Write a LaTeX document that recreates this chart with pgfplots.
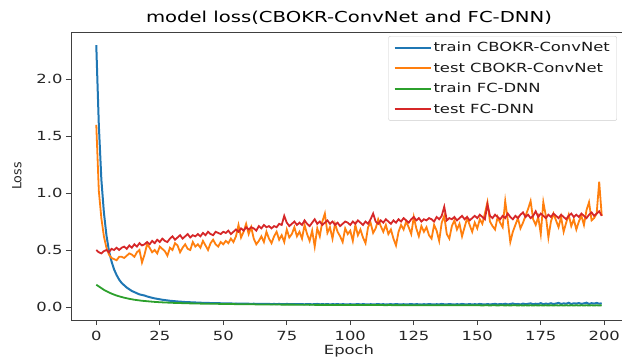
\documentclass[border=0pt]{standalone}
\usepackage{pgfplots}
\usepackage{pgfplotstable}
\pgfplotsset{compat=1.18}
\usepackage{fontspec}
\setmainfont[FakeStretch=1.3]{DejaVu Sans}
\newfontfamily\plainfont{DejaVu Sans}
\definecolor{tabblue}{HTML}{1F77B4}
\definecolor{taborange}{HTML}{FF7F0E}
\definecolor{tabgreen}{HTML}{2CA02C}
\definecolor{tabred}{HTML}{D62728}
\pgfplotstableread{
b o g r
2.30 1.60 0.195 0.50
1.60 1.02 0.180 0.48
1.12 0.78 0.165 0.47
0.83 0.62 0.150 0.49
0.63 0.52 0.138 0.50
0.49 0.46 0.127 0.48
0.40 0.43 0.117 0.51
0.33 0.42 0.108 0.50
0.28 0.41 0.100 0.52
0.24 0.44 0.093 0.50
0.21 0.44 0.087 0.52
0.19 0.43 0.081 0.53
0.17 0.45 0.076 0.51
0.155 0.47 0.071 0.54
0.14 0.46 0.067 0.52
0.13 0.44 0.063 0.55
0.12 0.48 0.060 0.53
0.11 0.50 0.057 0.56
0.105 0.39 0.054 0.54
0.10 0.46 0.052 0.55
0.092 0.55 0.050 0.57
0.086 0.52 0.048 0.55
0.080 0.48 0.046 0.58
0.075 0.50 0.044 0.56
0.071 0.47 0.043 0.59
0.067 0.53 0.041 0.57
0.063 0.51 0.040 0.60
0.060 0.49 0.039 0.58
0.057 0.45 0.038 0.57
0.054 0.52 0.037 0.60
0.052 0.50 0.036 0.62
0.050 0.56 0.035 0.59
0.048 0.54 0.034 0.61
0.046 0.48 0.034 0.63
0.045 0.52 0.033 0.60
0.043 0.55 0.032 0.62
0.042 0.51 0.032 0.64
0.041 0.50 0.031 0.61
0.040 0.57 0.031 0.63
0.039 0.53 0.030 0.62
0.038 0.55 0.030 0.64
0.037 0.52 0.029 0.62
0.036 0.58 0.029 0.65
0.036 0.54 0.028 0.63
0.035 0.50 0.028 0.66
0.034 0.56 0.028 0.64
0.034 0.59 0.027 0.63
0.033 0.55 0.027 0.66
0.033 0.53 0.027 0.65
0.032 0.57 0.026 0.64
0.032 0.55 0.026 0.66
0.031 0.58 0.026 0.65
0.030 0.56 0.025 0.67
0.031 0.60 0.025 0.64
0.029 0.57 0.025 0.66
0.030 0.62 0.024 0.68
0.029 0.72 0.024 0.66
0.028 0.61 0.024 0.69
0.029 0.66 0.024 0.67
0.028 0.73 0.023 0.70
0.028 0.64 0.023 0.68
0.027 0.70 0.023 0.70
0.028 0.60 0.023 0.69
0.027 0.55 0.022 0.67
0.026 0.58 0.022 0.71
0.027 0.62 0.022 0.69
0.026 0.57 0.022 0.72
0.027 0.66 0.022 0.70
0.026 0.60 0.021 0.71
0.025 0.56 0.021 0.69
0.026 0.62 0.021 0.71
0.025 0.66 0.021 0.70
0.026 0.59 0.021 0.73
0.025 0.63 0.020 0.72
0.024 0.57 0.020 0.80
0.026 0.68 0.020 0.74
0.025 0.61 0.020 0.71
0.024 0.64 0.020 0.73
0.025 0.70 0.020 0.75
0.024 0.62 0.019 0.72
0.025 0.66 0.019 0.74
0.024 0.60 0.019 0.72
0.023 0.72 0.019 0.76
0.025 0.64 0.019 0.73
0.024 0.58 0.018 0.71
0.023 0.67 0.019 0.74
0.024 0.53 0.018 0.77
0.026 0.69 0.018 0.73
0.023 0.62 0.018 0.75
0.024 0.75 0.018 0.72
0.023 0.82 0.018 0.74
0.025 0.65 0.018 0.76
0.022 0.70 0.017 0.73
0.024 0.60 0.018 0.75
0.023 0.73 0.017 0.72
0.025 0.66 0.017 0.74
0.022 0.62 0.018 0.71
0.024 0.57 0.017 0.73
0.023 0.69 0.017 0.75
0.022 0.64 0.017 0.74
0.024 0.67 0.017 0.72
0.022 0.58 0.016 0.75
0.023 0.72 0.017 0.73
0.025 0.63 0.016 0.76
0.022 0.68 0.017 0.74
0.024 0.61 0.016 0.72
0.023 0.56 0.016 0.75
0.021 0.70 0.017 0.73
0.024 0.74 0.016 0.77
0.022 0.65 0.016 0.82
0.023 0.69 0.016 0.75
0.025 0.77 0.016 0.73
0.022 0.71 0.016 0.76
0.024 0.66 0.016 0.74
0.021 0.72 0.015 0.77
0.023 0.64 0.016 0.75
0.024 0.68 0.016 0.73
0.022 0.60 0.015 0.76
0.025 0.54 0.016 0.74
0.023 0.66 0.015 0.77
0.022 0.72 0.015 0.75
0.024 0.68 0.016 0.78
0.021 0.75 0.015 0.76
0.023 0.70 0.015 0.74
0.025 0.64 0.015 0.77
0.022 0.79 0.015 0.79
0.024 0.69 0.015 0.76
0.023 0.62 0.015 0.78
0.021 0.71 0.015 0.75
0.024 0.66 0.015 0.77
0.022 0.70 0.015 0.76
0.025 0.63 0.014 0.78
0.023 0.60 0.015 0.77
0.021 0.72 0.015 0.75
0.024 0.67 0.014 0.79
0.022 0.58 0.015 0.77
0.026 0.74 0.014 0.80
0.023 0.80 0.015 0.88
0.022 0.64 0.014 0.76
0.025 0.60 0.015 0.78
0.023 0.71 0.014 0.77
0.021 0.76 0.014 0.79
0.024 0.68 0.015 0.76
0.022 0.73 0.014 0.78
0.026 0.62 0.014 0.80
0.023 0.70 0.014 0.77
0.022 0.78 0.015 0.79
0.025 0.72 0.014 0.76
0.021 0.66 0.014 0.78
0.024 0.74 0.014 0.80
0.022 0.69 0.014 0.78
0.026 0.77 0.014 0.81
0.023 0.73 0.013 0.79
0.021 0.82 0.014 0.77
0.025 0.92 0.014 0.90
0.022 0.75 0.013 0.80
0.024 0.71 0.014 0.78
0.027 0.68 0.014 0.81
0.022 0.79 0.013 0.79
0.025 0.74 0.014 0.77
0.023 0.70 0.014 0.80
0.028 0.93 0.013 0.78
0.022 0.76 0.014 0.82
0.025 0.57 0.013 0.79
0.030 0.66 0.014 0.77
0.023 0.72 0.014 0.80
0.026 0.78 0.013 0.78
0.022 0.69 0.014 0.81
0.029 0.74 0.013 0.83
0.024 0.80 0.014 0.79
0.027 0.86 0.013 0.81
0.031 0.93 0.014 0.78
0.023 0.77 0.013 0.80
0.028 0.72 0.014 0.84
0.025 0.79 0.013 0.79
0.033 0.64 0.014 0.82
0.024 0.92 0.013 0.80
0.029 0.80 0.014 0.78
0.026 0.61 0.013 0.81
0.032 0.75 0.014 0.79
0.025 0.82 0.013 0.82
0.030 0.76 0.014 0.80
0.035 0.70 0.013 0.78
0.026 0.79 0.014 0.81
0.031 0.66 0.013 0.79
0.028 0.74 0.014 0.77
0.036 0.81 0.013 0.80
0.025 0.71 0.014 0.82
0.032 0.77 0.013 0.79
0.029 0.68 0.014 0.81
0.034 0.75 0.013 0.79
0.027 0.80 0.014 0.82
0.031 0.72 0.013 0.80
0.037 0.85 0.014 0.78
0.026 0.92 0.013 0.81
0.033 0.76 0.014 0.83
0.029 0.78 0.013 0.80
0.035 0.82 0.014 0.82
0.028 1.10 0.013 0.84
0.032 0.80 0.014 0.80
}\losstable
\begin{document}
\begin{tikzpicture}
\begin{axis}[
  scale only axis,
  width=556pt, height=288pt,
  xmin=-9.95, xmax=208.95,
  ymin=-0.115, ymax=2.415,
  xtick={0,25,...,200},
  ytick={0,0.5,1.0,1.5,2.0},
  yticklabel style={/pgf/number format/fixed,/pgf/number format/fixed zerofill,/pgf/number format/precision=1},
  /pgf/number format/assume math mode=true,
  tick align=outside,
  tick pos=left,
  major tick length=5pt,
  every tick/.style={black!75, line width=0.8pt},
  axis line style={black!75, line width=0.8pt},
  tick label style={font=\fontsize{12.6}{14}\selectfont, text=black!85},
  xticklabel style={yshift=-3pt},
  yticklabel style={xshift=0pt},
  title={model loss(CBOKR-ConvNet and FC-DNN)},
  title style={font=\fontsize{15.1}{17}\selectfont, yshift=-2pt},
  xlabel={Epoch},
  ylabel={\plainfont Loss},
  label style={font=\fontsize{12.6}{14}\selectfont, text=black!85},
  xlabel style={yshift=3pt},
  ylabel style={yshift=8pt},
  legend style={at={(0.982,0.986)}, anchor=north east, draw=black!20, rounded corners=2pt,
    font=\fontsize{12.6}{14}\selectfont, row sep=5.5pt, inner xsep=5pt, inner ysep=4pt, text=black!90},
  legend cell align=left,
  legend image code/.code={\draw[#1, line width=2pt] (0pt,0pt) -- (36pt,0pt);},
]
\addplot[tabblue, line width=2pt] table[x expr=\coordindex, y=b] {\losstable};
\addlegendentry{train CBOKR-ConvNet}
\addplot[taborange, line width=1.8pt] table[x expr=\coordindex, y=o] {\losstable};
\addlegendentry{test CBOKR-ConvNet}
\addplot[tabgreen, line width=1.8pt] table[x expr=\coordindex, y=g] {\losstable};
\addlegendentry{train FC-DNN}
\addplot[tabred, line width=1.8pt] table[x expr=\coordindex, y=r] {\losstable};
\addlegendentry{test FC-DNN}
\end{axis}
\pgfresetboundingbox
\useasboundingbox ([xshift=-71pt,yshift=-42pt]current axis.south west) rectangle ([xshift=-5pt,yshift=32pt]current axis.north east);
\end{tikzpicture}
\end{document}
